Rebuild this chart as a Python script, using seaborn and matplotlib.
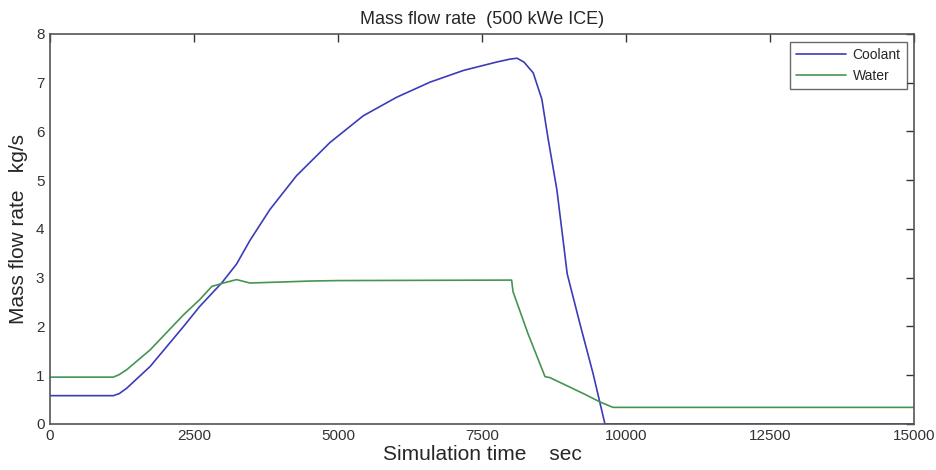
import numpy as np
import pandas as pd
import seaborn as sns
import matplotlib.pyplot as plt

# --- data ---
coolant_t = [0, 1100, 1200, 1330, 1740, 2320, 2600, 2980, 3240, 3470, 3820,
             4280, 4860, 5440, 6020, 6600, 7180, 7750, 7980, 8110, 8230,
             8390, 8540, 8650, 8800, 8910, 8980, 9200, 9430, 9635, 15000]
coolant_m = [0.58, 0.58, 0.62, 0.73, 1.18, 2.0, 2.41, 2.89, 3.28, 3.76, 4.40,
             5.09, 5.77, 6.32, 6.70, 7.01, 7.25, 7.42, 7.48, 7.50, 7.42,
             7.20, 6.66, 5.84, 4.81, 3.76, 3.08, 2.06, 1.03, 0.0, 0.0]
water_t = [0, 1100, 1200, 1330, 1740, 2320, 2600, 2810, 3010, 3240, 3470,
           4000, 4500, 5000, 8015, 8040, 8300, 8595, 8680, 9000, 9300,
           9550, 9775, 15000]
water_m = [0.96, 0.96, 1.01, 1.11, 1.52, 2.24, 2.55, 2.82, 2.89, 2.96, 2.89,
           2.91, 2.93, 2.94, 2.95, 2.71, 1.85, 0.97, 0.95, 0.77, 0.6,
           0.45, 0.34, 0.34]

df = pd.concat([
    pd.DataFrame({"t": coolant_t, "m": coolant_m, "fluid": "Coolant"}),
    pd.DataFrame({"t": water_t, "m": water_m, "fluid": "Water"}),
])

sns.set_style("white")
plt.rcParams['font.family'] = ['Liberation Sans', 'DejaVu Sans']

fig = plt.figure(figsize=(9.36, 4.70), dpi=100)
ax = fig.add_axes([0.0534, 0.098, 0.923, 0.830])

sns.lineplot(data=df, x="t", y="m", hue="fluid", sort=False,
             palette={"Coolant": "#3c3cb8", "Water": "#469454"},
             linewidth=1.2, ax=ax)

ax.set_xlim(0, 15000)
ax.set_ylim(0, 8)
ax.set_xticks([0, 2500, 5000, 7500, 10000, 12500, 15000])
ax.set_yticks(range(0, 9))
ax.tick_params(direction="in", top=True, right=True, length=6, width=1,
               labelsize=11, colors="#333333", pad=4)
for s in ax.spines.values():
    s.set_color("#555555")
    s.set_linewidth(1.2)

ax.set_title("Mass flow rate  (500 kWe ICE)", fontsize=13, pad=7)
ax.set_xlabel("Simulation time    sec", fontsize=15, labelpad=1)
ax.set_ylabel("Mass flow rate   kg/s", fontsize=15, labelpad=6)

leg = ax.legend(title=None, loc="upper right", fontsize=10, frameon=True,
                fancybox=False, handlelength=3.6, borderpad=0.45,
                handletextpad=0.5, borderaxespad=0,
                bbox_to_anchor=(0.992, 0.98))
leg.get_frame().set_edgecolor("#444444")
leg.get_frame().set_linewidth(1)

fig.savefig("out.png", dpi=100)
